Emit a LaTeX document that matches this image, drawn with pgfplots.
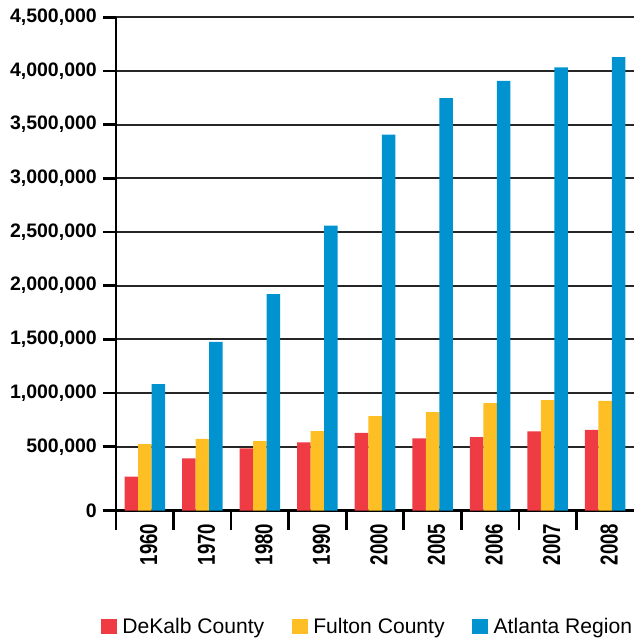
\documentclass[border=0pt]{standalone}
\usepackage{fontspec}
\setmainfont{Liberation Sans}
\newfontfamily\narrowfont{Liberation Sans}[FakeStretch=0.76]
\usepackage{pgfplots}
\pgfplotsset{compat=1.18}
\definecolor{dekalb}{HTML}{EE3B44}
\definecolor{fulton}{HTML}{FDBF23}
\definecolor{atlanta}{HTML}{0093D0}
\begin{document}
\begin{tikzpicture}
\path[use as bounding box] (-116pt,-128.3pt) rectangle (518pt,510.7pt);
\begin{axis}[
  scale only axis, width=518pt, height=493.4pt,
  at={(0pt,0pt)}, anchor=south west,
  xmin=-0.5, xmax=8.5, ymin=-96000, ymax=4500000,
  y coord trafo/.code={\begingroup\pgfkeys{/pgf/fpu=true,/pgf/fpu/output format=fixed}\pgfmathparse{#1+96000}\pgfmathsmuggle\pgfmathresult\endgroup},
  y coord inv trafo/.code={\begingroup\pgfkeys{/pgf/fpu=true,/pgf/fpu/output format=fixed}\pgfmathparse{#1-96000}\pgfmathsmuggle\pgfmathresult\endgroup},
  scaled y ticks=false,
  ybar=0pt, bar width=13.5pt,
  axis x line*=bottom, axis y line*=left,
  axis line style={-, line width=2.6pt, black},
  ymajorgrids, grid style={line width=2pt, black!85},
  tick align=outside, major tick length=13pt,
  tick style={line width=2.6pt, black},
  ytick={-96000,500000,1000000,1500000,2000000,2500000,3000000,3500000,4000000,4500000},
  yticklabels={0,{500,000},{1,000,000},{1,500,000},{2,000,000},{2,500,000},{3,000,000},{3,500,000},{4,000,000},{4,500,000}},
  yticklabel style={font=\fontsize{19.5}{22}\selectfont\bfseries, inner sep=0pt, xshift=-6pt},
  xtick={0,1,2,3,4,5,6,7,8},
  xticklabels={1960,1970,1980,1990,2000,2005,2006,2007,2008},
  x tick style={draw=none},
  xticklabel style={font=\fontsize{24.5}{26}\narrowfont\bfseries, rotate=90, anchor=east, inner sep=0pt, yshift=-4pt},
  extra x ticks={-0.5,0.5,1.5,2.5,3.5,4.5,5.5,6.5,7.5},
  extra x tick labels={},
  extra x tick style={major tick length=19.5pt, x tick style={draw=black, line width=2.6pt}, grid=none},
  legend style={at={(0.4855,-0.2357)}, anchor=center, draw=none, fill=none,
    legend columns=3, font=\fontsize{21.1}{24}\selectfont, inner sep=0pt,
    /tikz/every odd column/.append style={column sep=3.5pt},
    /tikz/every even column/.append style={column sep=25.5pt}},
  legend image code/.code={\fill[#1] (0pt,-7.5pt) rectangle (16pt,7.5pt);},
]
\addplot[draw=none, fill=dekalb] coordinates {
(0,221000) (1,392000) (2,485000) (3,541000) (4,628000) (5,578000) (6,590000) (7,643000) (8,656000)};
\addplot[draw=none, fill=fulton] coordinates {
(0,525000) (1,572000) (2,553000) (3,646000) (4,786000) (5,823000) (6,907000) (7,935000) (8,926000)};
\addplot[draw=none, fill=atlanta] coordinates {
(0,1084000) (1,1476000) (2,1921000) (3,2559000) (4,3407000) (5,3747000) (6,3907000) (7,4034000) (8,4130000)};
\legend{DeKalb County, Fulton County, Atlanta Region}
\end{axis}
\end{tikzpicture}
\end{document}
